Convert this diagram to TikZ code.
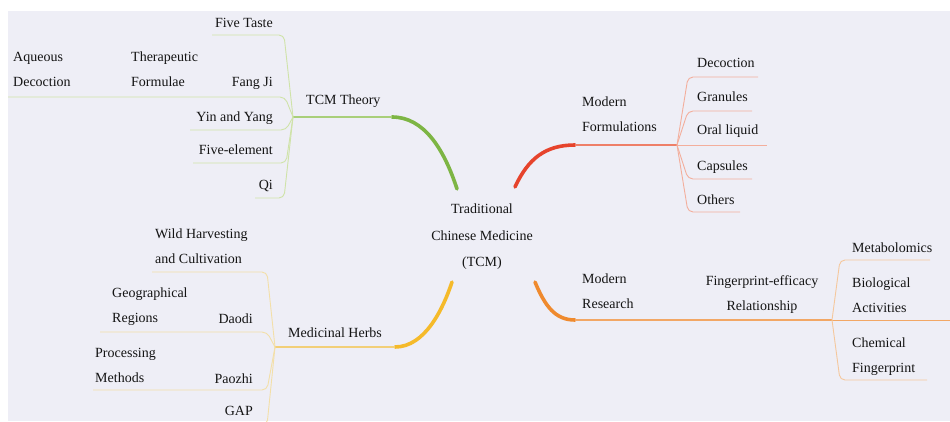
\documentclass[tikz,border=0pt]{standalone}
\usepackage{fontspec}
\setmainfont{Liberation Serif}
\usetikzlibrary{positioning}

\definecolor{bgpaper}{HTML}{EEEEF6}
\definecolor{inkgray}{HTML}{141414}
\definecolor{grnA}{HTML}{7DB544}
\definecolor{grnB}{HTML}{A9CF7A}
\definecolor{grnC}{HTML}{CFE3A8}
\definecolor{redA}{HTML}{E6432C}
\definecolor{redB}{HTML}{EE7F68}
\definecolor{redC}{HTML}{F3AE9C}
\definecolor{ylwA}{HTML}{F5BA2A}
\definecolor{ylwB}{HTML}{F2CF78}
\definecolor{ylwC}{HTML}{F3DFA8}
\definecolor{orgA}{HTML}{EF8A2E}
\definecolor{orgB}{HTML}{F2A765}
\definecolor{orgC}{HTML}{F5C79C}

\begin{document}
\begin{tikzpicture}[
    x=1pt, y=1pt,
    txt/.style={font=\fontsize{14}{25}\selectfont, inner sep=0pt, text=inkgray},
    leaf/.style={txt, align=left},
    trunk/.style={line width=3.6pt, line cap=round},
    limb/.style={line width=1.4pt},
    twig/.style={line width=0.9pt, rounded corners=5pt},
  ]
  \useasboundingbox (0,0) rectangle (950,421);
  \clip (0,0) rectangle (950,421);
  \fill[bgpaper] (8,0) rectangle (950,410);

  % Central topic
  \node[txt, align=center, font=\fontsize{14}{26.5}\selectfont] (tcm) at (482,184) {Traditional\\Chinese Medicine\\(TCM)};

  % TCM Theory (green)
  \coordinate (thbend) at (392,304);
  \coordinate (thhub) at (293,304);
  \draw[trunk, grnA] (tcm.north) +(-25,15) .. controls (444,272) and (424,304) .. (thbend);
  \draw[limb, grnB] (thbend) -- (thhub);
  \node[txt, anchor=base west] (theory) at (306,316) {TCM Theory};

  \node[txt, anchor=base east] (taste) at (273,393) {Five Taste};
  \node[txt, anchor=base east] (fangji) at (273,334) {Fang Ji};
  \node[leaf, anchor=base west] (formulae) at (131,334) {Therapeutic\\Formulae};
  \node[leaf, anchor=base west] (aqueous) at (13,334) {Aqueous\\Decoction};
  \node[txt, anchor=base east] (yinyang) at (273,299) {Yin and Yang};
  \node[txt, anchor=base east] (element) at (273,266) {Five-element};
  \node[txt, anchor=base east] (qi) at (273,231) {Qi};

  \coordinate (tasteend) at (212,386);
  \coordinate (aqueousend) at (8,324);
  \coordinate (yinyangend) at (190,291);
  \coordinate (elementend) at (193,258);
  \coordinate (qiend) at (255,223);
  \draw[twig, grnC] (thhub) -- (284,386) -- (tasteend);
  \draw[twig, grnC] (thhub) -- (285,324) -- (aqueousend);
  \draw[twig, grnC] (thhub) -- (286,291) -- (yinyangend);
  \draw[twig, grnC] (thhub) -- (286,258) -- (elementend);
  \draw[twig, grnC] (thhub) -- (284,223) -- (qiend);

  % Modern Formulations (red)
  \coordinate (fmbend) at (575,276);
  \coordinate (fmhub) at (677,276);
  \draw[trunk, redA] (tcm.north) +(33,17) .. controls (528,262) and (545,276) .. (fmbend);
  \draw[limb, redB] (fmbend) -- (fmhub);
  \node[leaf, anchor=base west] (formul) at (582,289) {Modern\\Formulations};

  \node[txt, anchor=base west] (decoction) at (697,353) {Decoction};
  \node[txt, anchor=base west] (granules) at (697,319) {Granules};
  \node[txt, anchor=base west] (oral) at (697,286) {Oral liquid};
  \node[txt, anchor=base west] (capsules) at (697,251) {Capsules};
  \node[txt, anchor=base west] (others) at (697,217) {Others};

  \coordinate (decoctionend) at (758,344);
  \coordinate (granulesend) at (752,310);
  \coordinate (oralend) at (767,276);
  \coordinate (capsulesend) at (752,242);
  \coordinate (othersend) at (740,209);
  \draw[twig, redC] (fmhub) -- (688,344) -- (decoctionend);
  \draw[twig, redC] (fmhub) -- (688,310) -- (granulesend);
  \draw[twig, redC] (fmhub) -- (oralend);
  \draw[twig, redC] (fmhub) -- (688,242) -- (capsulesend);
  \draw[twig, redC] (fmhub) -- (688,209) -- (othersend);

  % Medicinal Herbs (yellow)
  \coordinate (hbbend) at (395,74);
  \coordinate (hbhub) at (275,74);
  \draw[trunk, ylwA] (tcm.south) +(-30,-12) .. controls (443,112) and (425,74) .. (hbbend);
  \draw[limb, ylwB] (hbbend) -- (hbhub);
  \node[txt, anchor=base west] (herbs) at (288,84) {Medicinal Herbs};

  \node[leaf, anchor=base west] (wild) at (155,158) {Wild Harvesting\\and Cultivation};
  \node[leaf, anchor=base west] (geo) at (112,99) {Geographical\\Regions};
  \node[txt, anchor=base east] (daodi) at (253,98) {Daodi};
  \node[leaf, anchor=base west] (processing) at (95,39) {Processing\\Methods};
  \node[txt, anchor=base east] (paozhi) at (253,38) {Paozhi};
  \node[txt, anchor=base east] (gap) at (253,6) {GAP};

  \coordinate (wildend) at (152,149);
  \coordinate (geoend) at (100,89);
  \coordinate (processingend) at (93,31);
  \coordinate (gapend) at (215,-4);
  \draw[twig, ylwC] (hbhub) -- (267,149) -- (wildend);
  \draw[twig, ylwC] (hbhub) -- (267,89) -- (geoend);
  \draw[twig, ylwC] (hbhub) -- (267,31) -- (processingend);
  \draw[twig, ylwC] (hbhub) -- (267,-4) -- (gapend);

  % Modern Research (orange)
  \coordinate (rsbend) at (575,101);
  \coordinate (rshub) at (832,101);
  \draw[trunk, orgA] (tcm.south) +(53,-12) .. controls (545,115) and (555,101) .. (rsbend);
  \draw[limb, orgB] (rsbend) -- (rshub);
  \node[leaf, anchor=base west] (research) at (582,113) {Modern\\Research};
  \node[txt, align=center, anchor=base] (fingerprint) at (762,111) {Fingerprint-efficacy\\Relationship};

  \node[txt, anchor=base west] (metabolomics) at (852,169) {Metabolomics};
  \node[leaf, anchor=base west] (bio) at (852,109) {Biological\\Activities};
  \node[leaf, anchor=base west] (chemical) at (852,49) {Chemical\\Fingerprint};

  \coordinate (metabolomicsend) at (930,161);
  \coordinate (bioend) at (950,101);
  \coordinate (chemicalend) at (927,41);
  \draw[twig, orgC] (rshub) -- (840,161) -- (metabolomicsend);
  \draw[limb, orgB, line width=1pt] (rshub) -- (bioend);
  \draw[twig, orgC] (rshub) -- (840,41) -- (chemicalend);

\end{tikzpicture}
\end{document}
